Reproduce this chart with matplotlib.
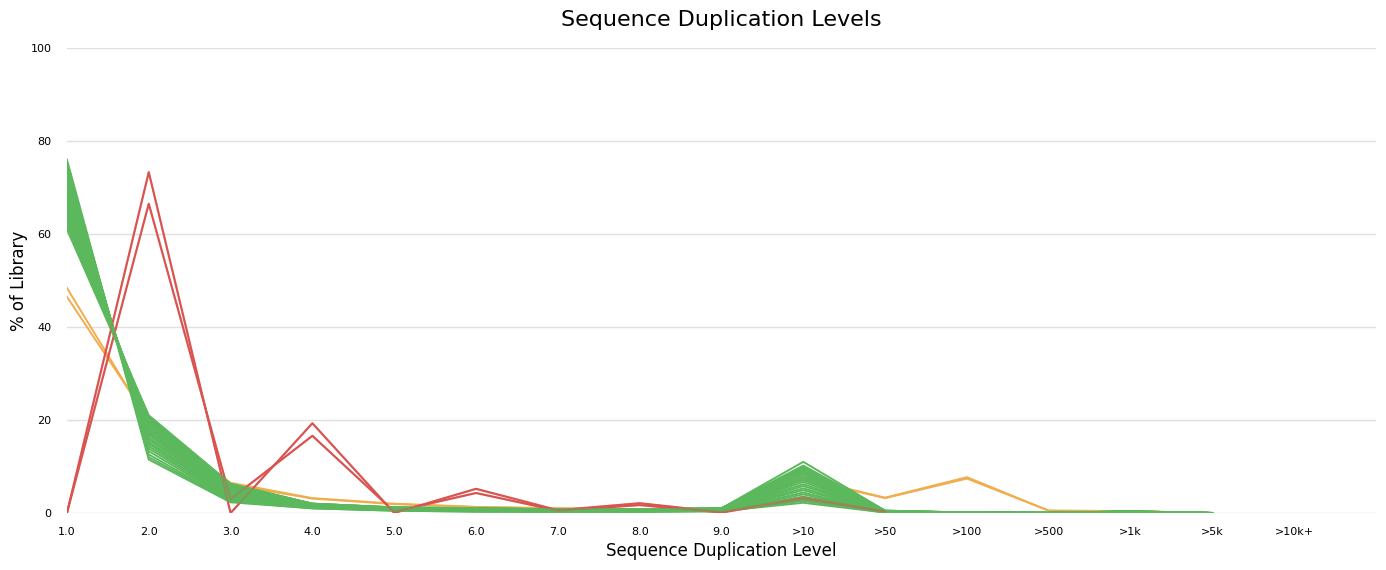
"""
FastQC sequence duplication levels, all samples in one line plot.
"""

import matplotlib

matplotlib.use("Agg")
import matplotlib.pyplot as plt

# ── data ─────────────────────────────────────────────────────────────────────

levels = ["1.0", "2.0", "3.0", "4.0", "5.0", "6.0", "7.0", "8.0", "9.0",
          ">10", ">50", ">100", ">500", ">1k", ">5k", ">10k+"]

# samples that pass (one row per sample); no value at >10k+
N = None
green_samples = [
    [76.0, 11.5, 2.3, 1.0, 0.5, 0.3, 0.3, 0.3, 0.4, 2.2, 0.10, 0.05, 0.02, 0.15, 0, N],
    [75.4, 12.0, 2.5, 1.0, 0.5, 0.3, 0.3, 0.3, 0.4, 2.6, 0.10, 0.05, 0.02, 0.15, 0, N],
    [74.9, 12.6, 2.6, 1.1, 0.6, 0.4, 0.3, 0.3, 0.4, 3.0, 0.10, 0.05, 0.02, 0.20, 0, N],
    [74.2, 13.3, 2.8, 1.1, 0.6, 0.4, 0.3, 0.3, 0.5, 3.5, 0.15, 0.05, 0.02, 0.20, 0, N],
    [73.6, 13.9, 3.0, 1.2, 0.6, 0.4, 0.4, 0.4, 0.5, 4.0, 0.15, 0.05, 0.02, 0.20, 0, N],
    [73.0, 14.4, 3.2, 1.2, 0.7, 0.5, 0.4, 0.4, 0.5, 4.4, 0.15, 0.06, 0.02, 0.20, 0, N],
    [72.3, 14.9, 3.4, 1.3, 0.7, 0.5, 0.4, 0.4, 0.6, 4.9, 0.20, 0.06, 0.02, 0.20, 0, N],
    [71.7, 15.3, 3.6, 1.3, 0.7, 0.5, 0.4, 0.4, 0.6, 5.3, 0.20, 0.06, 0.02, 0.20, 0, N],
    [71.0, 15.8, 3.8, 1.4, 0.8, 0.6, 0.5, 0.5, 0.6, 5.8, 0.20, 0.07, 0.02, 0.25, 0, N],
    [70.4, 16.2, 4.0, 1.4, 0.8, 0.6, 0.5, 0.5, 0.7, 6.2, 0.25, 0.07, 0.02, 0.25, 0, N],
    [69.7, 16.7, 4.2, 1.5, 0.8, 0.6, 0.5, 0.5, 0.7, 6.7, 0.25, 0.07, 0.02, 0.25, 0, N],
    [69.1, 17.1, 4.4, 1.5, 0.9, 0.7, 0.5, 0.5, 0.7, 7.1, 0.30, 0.08, 0.02, 0.25, 0, N],
    [68.4, 17.5, 4.6, 1.6, 0.9, 0.7, 0.6, 0.6, 0.8, 7.5, 0.30, 0.08, 0.02, 0.30, 0, N],
    [67.8, 17.9, 4.8, 1.6, 0.9, 0.7, 0.6, 0.6, 0.8, 7.9, 0.30, 0.08, 0.02, 0.30, 0, N],
    [67.1, 18.3, 5.0, 1.7, 1.0, 0.8, 0.6, 0.6, 0.8, 8.3, 0.35, 0.09, 0.02, 0.30, 0, N],
    [66.5, 18.7, 5.2, 1.7, 1.0, 0.8, 0.6, 0.6, 0.9, 8.6, 0.35, 0.09, 0.02, 0.30, 0, N],
    [65.8, 19.1, 5.4, 1.8, 1.0, 0.8, 0.7, 0.7, 0.9, 8.9, 0.40, 0.09, 0.02, 0.30, 0, N],
    [65.1, 19.4, 5.5, 1.8, 1.1, 0.9, 0.7, 0.7, 0.9, 9.2, 0.40, 0.10, 0.02, 0.30, 0, N],
    [64.4, 19.8, 5.7, 1.9, 1.1, 0.9, 0.7, 0.7, 1.0, 9.4, 0.40, 0.10, 0.02, 0.35, 0, N],
    [63.7, 20.1, 5.9, 1.9, 1.1, 0.9, 0.7, 0.7, 1.0, 9.6, 0.45, 0.10, 0.02, 0.35, 0, N],
    [63.0, 20.4, 6.0, 2.0, 1.2, 1.0, 0.8, 0.8, 1.0, 9.8, 0.45, 0.10, 0.02, 0.35, 0, N],
    [62.3, 20.6, 6.1, 2.0, 1.2, 1.0, 0.8, 0.8, 1.0, 10.0, 0.50, 0.10, 0.02, 0.35, 0, N],
    [61.6, 20.8, 6.2, 2.0, 1.2, 1.0, 0.8, 0.8, 1.0, 10.2, 0.50, 0.10, 0.02, 0.35, 0, N],
    [61.0, 21.0, 6.3, 2.0, 1.2, 1.0, 0.8, 0.8, 1.0, 11.0, 0.50, 0.10, 0.02, 0.35, 0, N],
]

# warnings
orange_samples = [
    [48.4, 19.5, 6.5, 3.2, 2.0, 1.3, 1.0, 0.8, 0.6, 7.5, 3.3, 7.7, 0.5, 0.4, 0, N],
    [46.5, 20.0, 6.1, 3.1, 1.9, 1.3, 1.0, 0.8, 0.6, 7.3, 3.2, 7.4, 0.5, 0.4, 0, N],
]

# failures
red_samples = [
    [0.0, 73.3, 0.0, 19.3, 0.0, 5.2, 0.6, 2.1, 0.2, 3.4, 0.3, 0.1, 0, 0, 0, N],
    [0.0, 66.5, 3.0, 16.6, 0.3, 4.3, 0.5, 1.7, 0.1, 3.0, 0.3, 0.1, 0, 0, 0, N],
]

GREEN = "#5cb85c"
ORANGE = "#f0ad4e"
RED = "#d9534f"

# ── plot ─────────────────────────────────────────────────────────────────────

fig = plt.figure(figsize=(13.86, 5.70), dpi=100)
ax = fig.add_axes([0.0483, 0.100, 0.9445, 0.8158])

x = list(range(len(levels)))
for row in orange_samples:
    ax.plot(x, row, color=ORANGE, lw=1.4)
for row in red_samples:
    ax.plot(x, row, color=RED, lw=1.5)
for row in green_samples:
    ax.plot(x, row, color=GREEN, lw=1.4)
# the failing samples still show faintly through the green band
for row in red_samples:
    ax.plot(x[:11], row[:11], color=RED, lw=1.5, alpha=0.35)

ax.set_xlim(0, 16)
ax.set_ylim(0, 100)
ax.set_xticks(x)
ax.set_xticklabels(levels, fontsize=8)
ax.set_yticks([0, 20, 40, 60, 80, 100])
ax.tick_params(axis="both", length=0, labelsize=8)
ax.tick_params(axis="x", pad=10)
ax.tick_params(axis="y", pad=11)

ax.grid(True, axis="y", color="#e0e0e0", lw=1)
ax.set_axisbelow(True)
for s in ax.spines.values():
    s.set_visible(False)

ax.set_xlabel("Sequence Duplication Level", fontsize=12, labelpad=4)
ax.set_ylabel("% of Library", fontsize=12, labelpad=2)
ax.set_title("Sequence Duplication Levels", fontsize=16, pad=16)

fig.savefig("out.png", dpi=100)
plt.close(fig)
